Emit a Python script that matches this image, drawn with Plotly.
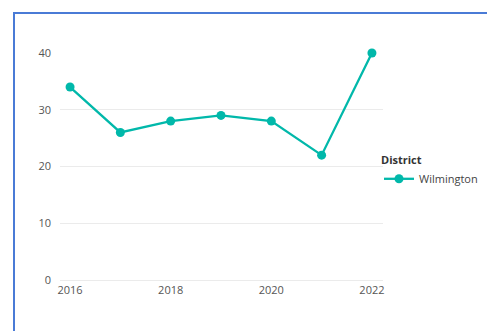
import plotly.graph_objects as go

years = [2016, 2017, 2018, 2019, 2020, 2021, 2022]
wilmington = [34, 26, 28, 29, 28, 22, 40]
y_ticks = [0, 10, 20, 30, 40]
x_ticks = [2016, 2018, 2020, 2022]

W, H = 487, 331
L, R, T, B = 60, 104, 53, 51
pw, ph = W - L - R, H - T - B


def px_x(p):
    return (p - L) / pw


def px_y(p):
    return (H - B - p) / ph


fig = go.Figure()
fig.add_trace(go.Scatter(
    x=years, y=wilmington, name="Wilmington", mode="lines+markers",
    line=dict(color="#01B8AA", width=2.3),
    marker=dict(color="#01B8AA", size=9),
    cliponaxis=False,
))

# selection frame along the left and top edges
border = "#4A7BD6"
fig.add_shape(type="line", xref="paper", yref="paper",
              x0=px_x(14), x1=px_x(14), y0=px_y(H + 5), y1=px_y(13),
              line=dict(color=border, width=2))
fig.add_shape(type="line", xref="paper", yref="paper",
              x0=px_x(13), x1=px_x(W + 5), y0=px_y(13), y1=px_y(13),
              line=dict(color=border, width=2))

fig.update_layout(
    width=W, height=H,
    margin=dict(l=L, r=R, t=T, b=B, autoexpand=False),
    paper_bgcolor="white", plot_bgcolor="white",
    font=dict(family="Open Sans, Noto Sans, sans-serif", size=11, color="#555555"),
    xaxis=dict(range=[2015.8, 2022.22], tickvals=x_ticks, showgrid=False,
               zeroline=False, showline=False, ticks="", ticklabelstandoff=2,
               tickfont=dict(size=11, color="#555555")),
    yaxis=dict(range=[0, 40], tickvals=y_ticks, showgrid=True, gridcolor="#EBEBEB",
               gridwidth=1, zeroline=True, zerolinecolor="#EBEBEB", zerolinewidth=1,
               showline=False, ticks="",
               ticklabelstandoff=8, tickfont=dict(size=11, color="#555555")),
    showlegend=True,
    legend=dict(
        x=px_x(379), y=px_y(150), xanchor="left", yanchor="top",
        title=dict(text="<b>District</b>", font=dict(size=11, color="#333333")),
        font=dict(size=11, color="#444444"),
        itemwidth=30, tracegroupgap=0,
        bgcolor="rgba(0,0,0,0)",
    ),
)

fig.write_html("out.html")
